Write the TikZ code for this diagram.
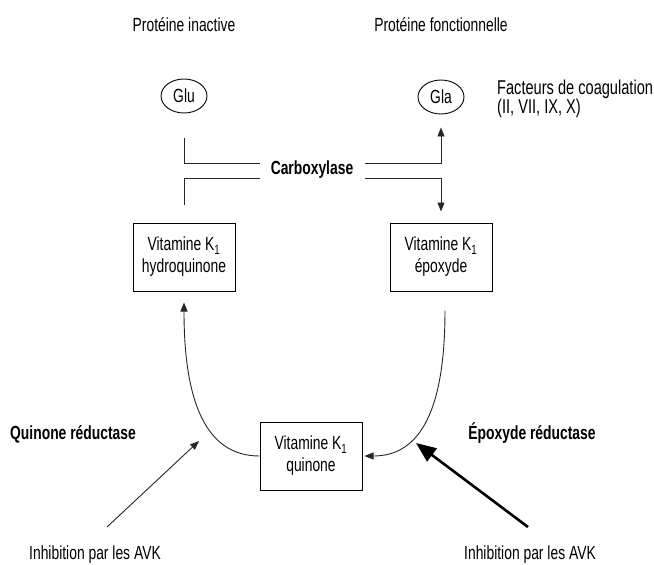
\documentclass[tikz,border=0pt]{standalone}
\usepackage{fontspec}
\setmainfont[FakeStretch=0.73]{Liberation Sans}
\usepackage{tikz}
\usetikzlibrary{shapes.geometric,arrows.meta}

\newcommand{\diagfont}{\fontsize{19}{22}\selectfont}

\tikzset{
	vitbox/.style={draw,line width=1pt,minimum width=102pt,minimum height=68pt,align=center,inner sep=2pt},
	aacid/.style={draw,ellipse,line width=0.9pt,minimum width=46pt,minimum height=34pt,inner sep=0pt},
	lbl/.style={inner sep=0pt,font=\diagfont},
	enz/.style={inner sep=0pt,font=\diagfont\bfseries},
	conn/.style={line width=0.9pt,black!85},
	tip/.style={-{Triangle[length=9pt,width=7pt]}},
	bigtip/.style={line width=2.6pt,-{Triangle[length=20pt,width=16pt]}}
}

\begin{document}
\begin{tikzpicture}[x=1pt,y=-1pt,font=\diagfont]
	\useasboundingbox (0,0) rectangle (654,565);
	% proteines
	\node[lbl] (inact) at (184,25) {Protéine inactive};
	\node[lbl] (fonct) at (441,25) {Protéine fonctionnelle};
	\node[aacid] (glu) at (184,96) {Glu};
	\node[aacid] (gla) at (441,97) {Gla};
	\node[lbl,align=left,anchor=west,font=\fontsize{20}{19.5}\selectfont] (fact) at (497,99) {Facteurs de coagulation\\(II, VII, IX, X)};
	% vitamine K1
	\node[vitbox] (hydro) at (184,257) {Vitamine K\textsubscript{1}\\hydroquinone};
	\node[vitbox] (epox) at (441,257) {Vitamine K\textsubscript{1}\\époxyde};
	\node[vitbox] (quin) at (311,456) {Vitamine K\textsubscript{1}\\quinone};
	% carboxylase
	\node[enz] (carbox) at (312,170) {Carboxylase};
	\coordinate (gluout) at (184,138);
	\coordinate (hydroout) at (184,205);
	\coordinate (carbUL) at (260,163);
	\coordinate (carbLL) at (260,178);
	\coordinate (carbUR) at (365,163);
	\coordinate (carbLR) at (365,178);
	\draw[conn] (gluout) |- (carbUL);
	\draw[conn] (hydroout) |- (carbLL);
	\draw[conn,tip,shorten >=13pt] (carbUR) -| (gla.south);
	\draw[conn,tip,shorten >=11pt] (carbLR) -| (epox.north);
	% cycle
	\draw[conn,tip,shorten >=11pt] (quin.west) .. controls (205,456) and (184,400) .. (hydro.south);
	\draw[conn,tip,shorten <=19pt,shorten >=2pt] ([xshift=4pt]epox.south) .. controls (445,420) and (415,456) .. (quin.east);
	% reductases
	\node[enz] (qred) at (73,434) {Quinone réductase};
	\node[enz] (ered) at (532,433) {Époxyde réductase};
	\node[lbl] (avkL) at (95,555) {Inhibition par les AVK};
	\node[lbl] (avkR) at (530,555) {Inhibition par les AVK};
	\coordinate (avkLfrom) at (107,527);
	\coordinate (qrcurve) at (199,441);
	\coordinate (avkRfrom) at (528,527);
	\coordinate (ercurve) at (416,443);
	\draw[conn,tip] (avkLfrom) -- (qrcurve);
	\draw[black,bigtip] (avkRfrom) -- (ercurve);
\end{tikzpicture}
\end{document}
